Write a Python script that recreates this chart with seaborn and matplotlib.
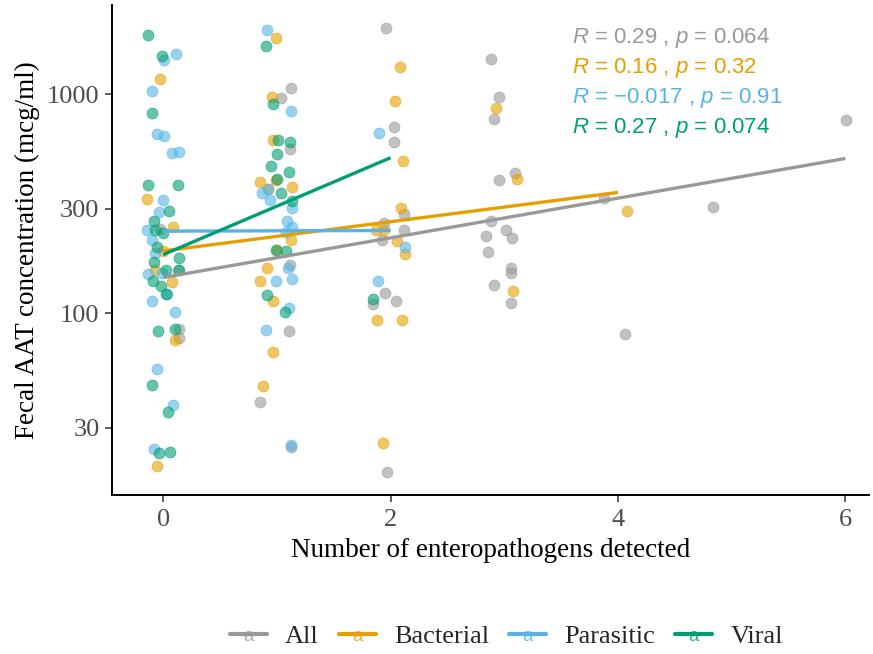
import numpy as np
import pandas as pd
import matplotlib
matplotlib.use("Agg")
import matplotlib.pyplot as plt
import matplotlib.text as mtext
from matplotlib.legend_handler import HandlerLine2D
from matplotlib.lines import Line2D
import seaborn as sns

# ---------------- data (count = pathogens detected, jitter = horizontal jitter, aat = mcg/ml)
groups = ["All", "Bacterial", "Parasitic", "Viral"]
colors = ["#999999", "#E69F00", "#56B4E9", "#009E73"]

all_count = [0, 0, 0, 0,
             1, 1, 1, 1, 1, 1, 1,
             2, 2, 2, 2, 2, 2, 2, 2, 2, 2, 2,
             3, 3, 3, 3, 3, 3, 3, 3, 3, 3, 3, 3, 3, 3,
             4, 4, 5, 6]
all_jitter = [-0.03, 0.135, 0.135, 0.13,
              0.123, 0.035, 0.112, 0.117, 0.108, -0.145, 0.12,
              -0.041, 0.032, 0.032, 0.12, -0.062, 0.114, -0.077, -0.05, -0.156, 0.047, -0.033,
              -0.115, -0.045, -0.091, -0.047, 0.096, -0.118, -0.157, 0.014, 0.067, -0.142, 0.061, 0.058, -0.095, 0.058,
              -0.12, 0.063, -0.165, 0.004]
all_aat = [241, 84.2, 77.1, 158,
           1062, 962, 563, 166, 83.0, 39.4, 24.4,
           2000, 705, 604, 283, 258, 239, 215, 124, 110, 114, 18.7,
           1440, 969, 767, 405, 434, 264, 225, 239, 219, 191, 161, 152, 134, 111,
           334, 80, 306, 761]

bac_count = [0, 0, 0, 0, 0, 0, 0, 0,
             1, 1, 1, 1, 1, 1, 1, 1, 1, 1, 1, 1, 1, 1,
             2, 2, 2, 2, 2, 2, 2, 2, 2, 2, 2,
             3, 3, 3, 4]
bac_jitter = [-0.03, -0.14, 0.085, 0.0, 0.077, 0.105, -0.05, -0.07,
              -0.01, -0.044, -0.035, -0.01, -0.147, 0.135, -0.074, 0.123, 0.0, -0.088, -0.147, -0.033, -0.035, -0.12,
              0.084, 0.043, 0.108, 0.093, -0.13, -0.056, 0.055, 0.123, -0.12, 0.099, -0.065,
              -0.074, 0.109, 0.078, 0.081]
bac_aat = [1167, 333, 247, 193, 139, 75.3, 20.0, 158,
           1802, 966, 619, 405, 396, 376, 367, 215, 195, 160, 140, 113, 66.6, 46.3,
           1328, 929, 496, 303, 239, 239, 214, 187, 93, 93, 25.4,
           866, 409, 126, 292]

par_count = [0] * 20 + [1] * 15 + [2] * 3
par_jitter = [0.01, 0.114, -0.10, -0.055, 0.005, 0.077, 0.143, -0.005, -0.04, -0.14,
              -0.10, -0.07, -0.135, -0.01, 0.03, -0.10, 0.10, -0.055, 0.085, -0.085,
              -0.083, 0.12, -0.13, -0.074, -0.059, 0.13, 0.093, 0.135, 0.082, 0.102,
              -0.012, 0.135, 0.11, -0.10, 0.12,
              -0.10, 0.13, -0.11]
par_aat = [1430, 1525, 1035, 657, 643, 540, 542, 330, 288, 239,
           215, 189, 150, 153, 122, 114, 101, 55.3, 38.0, 23.9,
           1960, 834, 352, 367, 330, 301, 263, 248, 234, 160,
           140, 143, 106, 83.6, 24.9,
           666, 200, 140]

vir_count = [0] * 23 + [1] * 14 + [2]
vir_jitter = [-0.13, -0.01, -0.10, -0.13, 0.126, 0.053, -0.08, -0.075, -0.005, -0.055,
              -0.085, 0.135, 0.026, 0.14, -0.09, -0.02, 0.026, -0.045, 0.105, -0.10,
              0.04, -0.04, 0.06,
              -0.10, -0.035, 0.009, 0.112, 0.0, -0.055, 0.11, 0.0, 0.038, 0.135,
              -0.012, 0.082, -0.088, 0.067,
              -0.156]
vir_aat = [1854, 1491, 822, 383, 385, 293, 264, 239, 233, 201,
           171, 178, 158, 158, 140, 133, 122, 82.8, 84.8, 46.9,
           35.4, 22.9, 23.1,
           1662, 900, 619, 606, 534, 469, 439, 409, 352, 324,
           195, 193, 121, 101,
           116]

r_text = ["0.29", "0.16", "\u22120.017", "0.27"]
p_text = ["0.064", "0.32", "0.91", "0.074"]

y_ticks = [30, 100, 300, 1000]

# ---------------- build frame
frames = []
for g, c, j, a in [("All", all_count, all_jitter, all_aat),
                   ("Bacterial", bac_count, bac_jitter, bac_aat),
                   ("Parasitic", par_count, par_jitter, par_aat),
                   ("Viral", vir_count, vir_jitter, vir_aat)]:
    frames.append(pd.DataFrame({"group": g, "count": c, "jitter": j, "aat": a}))
df = pd.concat(frames, ignore_index=True)
df["xpos"] = df["count"] + df["jitter"]
df["log_aat"] = np.log10(df["aat"])

# ---------------- plot
sns.set_style("white")
plt.rcParams["mathtext.fontset"] = "custom"
plt.rcParams["mathtext.it"] = "Liberation Sans:italic"
plt.rcParams["mathtext.rm"] = "Liberation Sans"

fig = plt.figure(figsize=(8.73, 6.54), dpi=100)
ax = fig.add_axes([0.1283, 0.2431, 0.8675, 0.749])

for g, col in zip(groups, colors):
    sub = df[df["group"] == g]
    sns.scatterplot(data=sub, x="xpos", y="log_aat", color=col, alpha=0.6,
                    s=62, edgecolor=col, linewidth=0.6, ax=ax, legend=False, zorder=2)

for g, col in zip(groups, colors):
    sub = df[df["group"] == g]
    sns.regplot(data=sub, x="count", y="log_aat", scatter=False, ci=None,
                color=col, line_kws=dict(lw=2.4, solid_capstyle="butt", zorder=3), ax=ax)

ax.set_xlim(-0.45, 6.21)
ax.set_ylim(1.169, 3.406)
ax.set_xticks([0, 2, 4, 6])
ax.set_xticklabels(["0", "2", "4", "6"])
ax.set_yticks(np.log10(y_ticks))
ax.set_yticklabels([str(v) for v in y_ticks])

serif = "Liberation Serif"
for lab in ax.get_xticklabels() + ax.get_yticklabels():
    lab.set_fontfamily(serif)
    lab.set_fontsize(19)
    lab.set_color("#4D4D4D")
ax.tick_params(axis="both", length=5, width=1.1, color="#333333", direction="out", pad=4,
               bottom=True, left=True)
ax.tick_params(axis="x", pad=5)
ax.set_xlabel("Number of enteropathogens detected", fontfamily=serif, fontsize=19.5,
              color="black", labelpad=5)
ax.set_ylabel("Fecal AAT concentration (mcg/ml)", fontfamily=serif, fontsize=19.5,
              color="black", labelpad=5)

for side in ["top", "right"]:
    ax.spines[side].set_visible(False)
for side in ["left", "bottom"]:
    ax.spines[side].set_color("black")
    ax.spines[side].set_linewidth(1.4)
ax.grid(False)

# correlation annotations
for i, (col, r, p) in enumerate(zip(colors, r_text, p_text)):
    ax.text(0.607, 0.933 - i * 0.0612, rf"$\mathit{{R}}$ = {r} , $\mathit{{p}}$ = {p}",
            transform=ax.transAxes, color=col, fontsize=16, fontfamily="Liberation Sans",
            ha="left", va="center")


class HandlerLineA(HandlerLine2D):
    def create_artists(self, legend, orig_handle, xdescent, ydescent, width, height, fontsize, trans):
        arts = super().create_artists(legend, orig_handle, xdescent, ydescent, width, height, fontsize, trans)
        t = mtext.Text(x=width / 2 - xdescent, y=height / 2 - ydescent - 2, text="a",
                       color=orig_handle.get_color(), ha="center", va="center",
                       fontsize=fontsize * 0.7, fontfamily="Liberation Sans", alpha=0.8)
        t.set_transform(trans)
        return [t] + arts


handles = [Line2D([0], [0], color=c, lw=3.0) for c in colors]
leg = fig.legend(handles, groups, loc="center", bbox_to_anchor=(0.58, 0.027), ncol=4,
                 frameon=False, handlelength=1.4, handletextpad=0.7, columnspacing=0.75,
                 prop={"family": serif, "size": 19},
                 handler_map={Line2D: HandlerLineA()})

fig.savefig("out.png", dpi=100)
